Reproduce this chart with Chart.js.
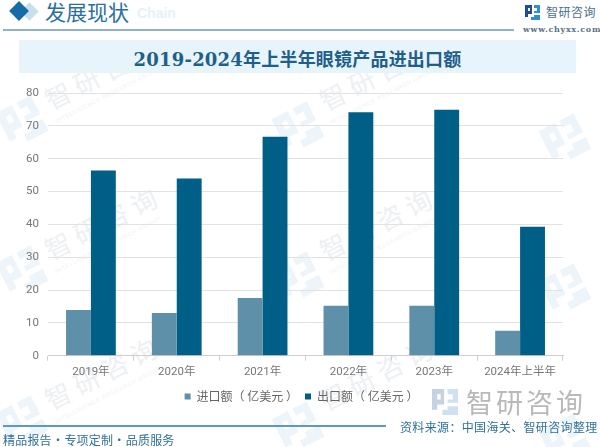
<!DOCTYPE html>
<html>
<head>
<meta charset="utf-8">
<script src="https://cdn.jsdelivr.net/npm/chart.js@4"></script>
<style>
html, body { margin: 0; padding: 0; background: #fff; }
#page { position: relative; width: 600px; height: 447px; overflow: hidden; font-family: "Noto Sans CJK SC", sans-serif; }
#page div { position: absolute; white-space: nowrap; }
canvas { position: absolute; left: 0; top: 0; }
.wm { color: #edf0f3; font-size: 26px; letter-spacing: 6px; transform: rotate(-27deg); transform-origin: left top; line-height: 26px; }
.wmen { color: #f1f3f5; font: 6px "Liberation Sans"; letter-spacing: 0.6px; transform: rotate(-27deg); transform-origin: left top; }
.wmlogo { position: absolute; transform: rotate(-27deg); }
</style>
</head>
<body>
<div id="page">
  <svg width="0" height="0" style="position:absolute">
    <symbol id="mark" viewBox="0 0 15 15">
      <path d="M0 0H7V9H3V12H0ZM3 3V6H5V3Z"/><path d="M9 0H15V8H9V6H12V3H9ZM9 10H15V15H6V12H9Z"/>
    </symbol>
  </svg>
  <svg class="wmlogo" style="left:2px;top:102px" width="40" height="40" fill="#eef5fa"><use href="#mark"/></svg>
  <svg class="wmlogo" style="left:2px;top:252px" width="40" height="40" fill="#eef5fa"><use href="#mark"/></svg>
  <svg class="wmlogo" style="left:2px;top:402px" width="40" height="40" fill="#eef5fa"><use href="#mark"/></svg>
  <svg class="wmlogo" style="left:278px;top:108px" width="40" height="40" fill="#eef5fa"><use href="#mark"/></svg>
  <svg class="wmlogo" style="left:278px;top:258px" width="40" height="40" fill="#eef5fa"><use href="#mark"/></svg>
  <svg class="wmlogo" style="left:278px;top:408px" width="40" height="40" fill="#eef5fa"><use href="#mark"/></svg>
  <svg class="wmlogo" style="left:545px;top:120px" width="40" height="40" fill="#eef5fa"><use href="#mark"/></svg>
  <svg class="wmlogo" style="left:545px;top:270px" width="40" height="40" fill="#eef5fa"><use href="#mark"/></svg>
  <svg class="wmlogo" style="left:545px;top:420px" width="40" height="40" fill="#eef5fa"><use href="#mark"/></svg>
  <div class="wm" style="left:40px;top:89px">智研咨询</div>
  <div class="wm" style="left:40px;top:239px">智研咨询</div>
  <div class="wm" style="left:40px;top:389px">智研咨询</div>
  <div class="wm" style="left:315px;top:90px">智研咨询</div>
  <div class="wm" style="left:315px;top:240px">智研咨询</div>
  <div class="wm" style="left:315px;top:390px">智研咨询</div>
  <div class="wmen" style="left:54px;top:119px">INTELLIGENCE RESEARCH GROUP</div>
  <div class="wmen" style="left:54px;top:269px">INTELLIGENCE RESEARCH GROUP</div>
  <div class="wmen" style="left:54px;top:419px">INTELLIGENCE RESEARCH GROUP</div>
  <div class="wmen" style="left:329px;top:120px">INTELLIGENCE RESEARCH GROUP</div>
  <div class="wmen" style="left:329px;top:270px">INTELLIGENCE RESEARCH GROUP</div>

  <div style="left:13px;top:5px;width:13px;height:13px;background:#c8e0ee;transform:rotate(45deg) translate(7px,-7px)"></div>
  <div style="left:12px;top:4px;width:14px;height:14px;background:#176ba6;transform:rotate(45deg)"></div>
  <div style="left:137px;top:5px;font:bold 14px 'Liberation Sans';color:#e6f1f9">Chain</div>
  <div style="left:45px;top:-4px;font-size:21px;line-height:30px;color:#2a6f9f">发展现状</div>
  <div style="left:3px;top:29px;width:511px;height:2px;background:#8fb2c7"></div>

  <div style="left:19px;top:40px;width:557px;height:33px;background:#e8f4fb"></div>
  <div style="left:19px;top:43px;width:557px;height:33px;line-height:33px;text-align:center;font-size:18px;font-weight:bold;letter-spacing:0.2px;color:#1f5f8b;font-family:'DejaVu Serif','Noto Sans CJK SC'">2019-2024年上半年眼镜产品进出口额</div>

  <svg style="position:absolute;left:525px;top:5px" width="15" height="15" viewBox="0 0 15 15">
    <path d="M0 0H7V9H3V12H0ZM3 3V6H5V3Z" fill="#1d4f91"/><path d="M9 0H15V8H9V6H12V3H9ZM9 10H15V15H6V12H9Z" fill="#2f8fd0"/>
  </svg>
  <div style="left:546px;top:3px;font-size:12px;line-height:18px;letter-spacing:0.5px;color:#4d6f8a">智研咨询</div>
  <div style="left:523px;top:24px;font:bold 8px/10px 'DejaVu Serif';letter-spacing:0.7px;color:#5a7286">www.chyxx.com</div>

  <canvas id="myChart" width="600" height="447"></canvas>

  <svg style="position:absolute;left:432px;top:389px" width="26" height="26" viewBox="0 0 15 15">
    <path d="M0 0H7V9H3V12H0ZM3 3V6H5V3Z" fill="#c6d2e2"/><path d="M9 0H15V8H9V6H12V3H9ZM9 10H15V15H6V12H9Z" fill="#cfe1f0"/>
  </svg>
  <div style="left:466px;top:384px;font-size:27px;line-height:36px;letter-spacing:3px;color:#b9b9b9">智研咨询</div>
  <div style="left:3px;top:425px;width:383px;height:2px;background:#5e9abb"></div>
  <div style="left:400px;top:418px;font-size:12px;line-height:17px;letter-spacing:0.35px;color:#2f7199">资料来源：中国海关、智研咨询整理</div>
  <div style="left:3px;top:431px;font-size:12px;line-height:17px;letter-spacing:0.2px;word-spacing:-2.7px;color:#2f7199">精品报告 · 专项定制 · 品质服务</div>
</div>
<script>
const categories = ['2019年', '2020年', '2021年', '2022年', '2023年', '2024年上半年'];
const importValues = [13.9, 13, 17.6, 15.2, 15.2, 7.6];
const exportValues = [56.4, 54, 66.7, 74.1, 74.9, 39.3];
const yTicks = [0, 10, 20, 30, 40, 50, 60, 70, 80];

const tickFont = { family: "'Roboto', 'Noto Sans CJK SC', sans-serif", size: 11.5 };

// legend sits right of the plot centre in the original
const legendShift = {
    id: 'legendShift',
    afterLayout(chart) {
        chart.legend.left += 20;
        chart.legend.right += 20;
    }
};

new Chart(document.getElementById('myChart'), {
    type: 'bar',
    plugins: [legendShift],
    data: {
        labels: categories,
        datasets: [
            { label: '进口额（ 亿美元 ）', data: importValues, backgroundColor: '#5f90aa' },
            { label: '出口额（ 亿美元 ）', data: exportValues, backgroundColor: '#005f86' }
        ]
    },
    options: {
        responsive: false,
        animation: false,
        layout: { padding: { left: 0, right: 37, top: 93, bottom: 34.5 } },
        datasets: { bar: { categoryPercentage: 0.58, barPercentage: 1 } },
        scales: {
            x: {
                grid: { display: true, drawOnChartArea: false, color: '#cfcfcf', tickLength: 5 },
                border: { color: '#cfcfcf' },
                ticks: { color: '#777777', font: tickFont, padding: 4.5 }
            },
            y: {
                min: 0,
                max: 80,
                afterBuildTicks: axis => { axis.ticks = yTicks.map(v => ({ value: v })); },
                afterFit: axis => { axis.width = 48; },
                grid: { color: '#e2e2e2', tickLength: 0 },
                border: { display: false },
                ticks: { color: '#777777', font: tickFont, padding: 9 }
            }
        },
        plugins: {
            tooltip: { enabled: false },
            legend: {
                position: 'bottom',
                labels: {
                    boxWidth: 6,
                    boxHeight: 6,
                    padding: 7,
                    color: '#666666',
                    font: { family: "'Noto Sans CJK SC', sans-serif", size: 12 }
                }
            }
        }
    }
});
</script>
</body>
</html>
